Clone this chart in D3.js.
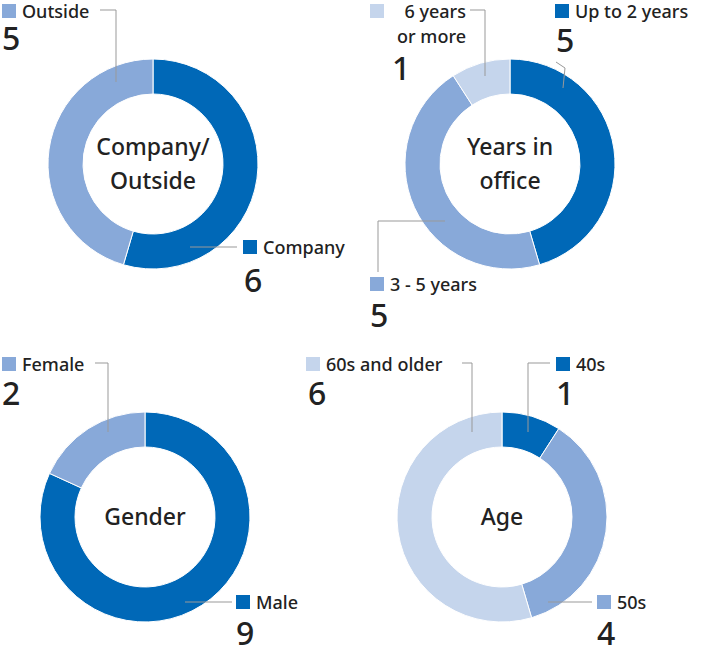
<!DOCTYPE html>
<html><head><meta charset="utf-8">
<script src="https://cdn.jsdelivr.net/npm/d3@7"></script>
<style>body{margin:0;background:#fff}text{font-family:"Noto Sans",sans-serif;fill:#222;font-weight:500}</style>
</head><body>
<script>
var dark = "#0068b7", mid = "#88a9d9", light = "#c5d5ec";

var companyCats = ["Company", "Outside"];
var companyVals = [6, 5];
var yearsCats = ["Up to 2 years", "3 - 5 years", "6 years or more"];
var yearsVals = [5, 5, 1];
var genderCats = ["Male", "Female"];
var genderVals = [9, 2];
var ageCats = ["40s", "50s", "60s and older"];
var ageVals = [1, 4, 6];

var svg = d3.select("body").append("svg").attr("width", 701).attr("height", 660);

var charts = [
  {cats: companyCats, vals: companyVals, colors: [dark, mid], cx: 153, cy: 164, title: ["Company/", "Outside"],
   labels: [
     {sq: [243, 240], lines: ["Company"], num: [244, 292], lead: [[190,247],[237,247]]},
     {sq: [2, 4], lines: ["Outside"], num: [2, 50], lead: [[100,10],[116,10],[116,82]]}
   ]},
  {cats: yearsCats, vals: yearsVals, colors: [dark, mid, light], cx: 510, cy: 164, title: ["Years in", "office"],
   labels: [
     {sq: [555, 4], lines: ["Up to 2 years"], num: [556, 52], lead: [[556,62],[565,68],[563,88]]},
     {sq: [370, 277], lines: ["3 - 5 years"], num: [370, 327], lead: [[445,221],[378,221],[378,272]]},
     {sq: [370, 4], lines: ["6 years", "or more"], align: 466, num: [392, 80], lead: [[470,10],[485,10],[485,76]]}
   ]},
  {cats: genderCats, vals: genderVals, colors: [dark, mid], cx: 145, cy: 517, title: ["Gender"],
   labels: [
     {sq: [236, 595], lines: ["Male"], num: [236, 645], lead: [[185,602],[232,602]]},
     {sq: [2, 357], lines: ["Female"], num: [2, 405], lead: [[95,363],[108,363],[108,432]]}
   ]},
  {cats: ageCats, vals: ageVals, colors: [dark, mid, light], cx: 502, cy: 517, title: ["Age"],
   labels: [
     {sq: [556, 357], lines: ["40s"], num: [556, 405], lead: [[550,363],[528,363],[528,432]]},
     {sq: [597, 595], lines: ["50s"], num: [597, 645], lead: [[548,602],[592,602]]},
     {sq: [306, 357], lines: ["60s and older"], num: [308, 405], lead: [[462,363],[472,363],[472,432]]}
   ]}
];

var pie = d3.pie().sort(null);
var arc = d3.arc().innerRadius(70).outerRadius(105);

charts.forEach(function(c) {
  var g = svg.append("g").attr("transform", "translate(" + c.cx + "," + c.cy + ")");
  g.selectAll("path").data(pie(c.vals)).enter().append("path")
    .attr("d", arc).attr("fill", function(d, i) { return c.colors[i]; })
    .attr("stroke", "#fff").attr("stroke-width", 1);
  c.title.forEach(function(t, i) {
    g.append("text").attr("text-anchor", "middle")
      .attr("y", (i - (c.title.length - 1) / 2) * 34 + 8)
      .style("font-size", "23px").text(t);
  });
  c.labels.forEach(function(l, i) {
    svg.append("path").attr("d", d3.line()(l.lead)).attr("fill", "none")
      .attr("stroke", "#999").attr("stroke-width", 1);
    svg.append("rect").attr("x", l.sq[0]).attr("y", l.sq[1]).attr("width", 14).attr("height", 14)
      .attr("fill", c.colors[i]);
    l.lines.forEach(function(t, j) {
      svg.append("text")
        .attr("x", l.align ? l.align : l.sq[0] + 20)
        .attr("text-anchor", l.align ? "end" : "start")
        .attr("y", l.sq[1] + 14 + j * 25)
        .style("font-size", "18px").text(t);
    });
    svg.append("text").attr("x", l.num[0]).attr("y", l.num[1])
      .style("font-size", "32px").text(c.vals[i]);
  });
});
</script>
</body></html>
